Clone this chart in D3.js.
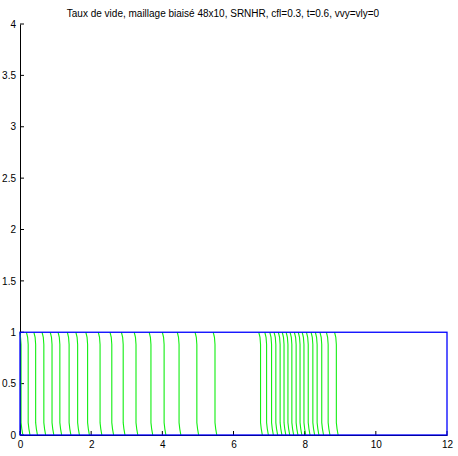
<!DOCTYPE html>
<html><head><meta charset="utf-8">
<script src="https://cdn.jsdelivr.net/npm/d3@7"></script>
<style>body{margin:0;background:#fff}svg{display:block}text{font-family:"Liberation Sans",Arial,sans-serif}</style>
</head><body>
<script>
const title = "Taux de vide, maillage biaisé 48x10, SRNHR, cfl=0.3, t=0.6, vvy=vly=0";
const xTicks = [0, 2, 4, 6, 8, 10, 12];
const yTicks = [0, 0.5, 1, 1.5, 2, 2.5, 3, 3.5, 4];
const domainRect = [0, 0, 12, 1]; // x0, y0, x1, y1
// contour line positions (x at mid-height)
const contoursLeft = [0.03, 0.23, 0.44, 0.67, 0.90, 1.12, 1.38, 1.62, 1.90, 2.25, 2.58, 2.90, 3.26, 3.68, 4.05, 4.47, 4.97, 5.48];
const contoursRight = [6.76, 6.93, 7.07, 7.19, 7.31, 7.42, 7.53, 7.64, 7.76, 7.87, 7.98, 8.10, 8.23, 8.35, 8.48, 8.66, 8.89];
// shape of each contour: [dx, y]
const shapeProfile = [[-0.05, 1], [-0.015, 0.95], [0, 0.88], [0, 0.12], [0.02, 0.06], [0.05, 0]];

const W = 458, H = 456;
const x = d3.scaleLinear().domain([0, 12]).range([20, 447]);
const y = d3.scaleLinear().domain([0, 4]).range([435, 24]);

const svg = d3.select("body").append("svg").attr("width", W).attr("height", H);
svg.append("rect").attr("width", W).attr("height", H).attr("fill", "#fff");

// axes
const xAxis = d3.axisBottom(x).tickValues(xTicks).tickSize(0).tickPadding(6).tickFormat(d3.format("d"));
const gx = svg.append("g").attr("transform", `translate(0,${y(0)})`).call(xAxis);
gx.select(".domain").attr("stroke", "#000");
gx.selectAll("text").attr("font-size", 10).attr("fill", "#000").attr("font-family", '"Liberation Sans",Arial,sans-serif');
// inward x ticks
svg.append("g").selectAll("line").data(xTicks).join("line")
  .attr("x1", d => x(d)).attr("x2", d => x(d)).attr("y1", y(0)).attr("y2", y(0) - 4)
  .attr("stroke", "#000").attr("stroke-width", 1);

const yAxis = d3.axisLeft(y).tickValues(yTicks).tickSize(0).tickPadding(4).tickFormat(d => String(d));
const gy = svg.append("g").attr("transform", `translate(${x(0)},0)`).call(yAxis);
gy.select(".domain").attr("stroke", "#000");
gy.selectAll("text").attr("font-size", 10).attr("fill", "#000").attr("font-family", '"Liberation Sans",Arial,sans-serif');
svg.append("g").selectAll("line").data(yTicks).join("line")
  .attr("x1", x(0)).attr("x2", x(0) + 4).attr("y1", d => y(d)).attr("y2", d => y(d))
  .attr("stroke", "#000").attr("stroke-width", 1);

// contours
const line = d3.line().x(d => x(d[0])).y(d => y(d[1]));
const all = contoursLeft.concat(contoursRight);
svg.append("g").selectAll("path").data(all).join("path")
  .attr("d", xm => line(shapeProfile.map(([dx, yy]) => [Math.max(0, xm + dx), yy])))
  .attr("fill", "none").attr("stroke", "#11ee11").attr("stroke-width", 1.1);

// domain rectangle
svg.append("rect")
  .attr("x", x(domainRect[0])).attr("y", y(domainRect[3]))
  .attr("width", x(domainRect[2]) - x(domainRect[0]))
  .attr("height", y(domainRect[1]) - y(domainRect[3]))
  .attr("fill", "none").attr("stroke", "#0000ff").attr("stroke-width", 1.3);

// title
svg.append("text").attr("x", 223).attr("y", 16.5).attr("text-anchor", "middle")
  .attr("font-size", 10).attr("fill", "#000").text(title);
</script>
</body></html>
